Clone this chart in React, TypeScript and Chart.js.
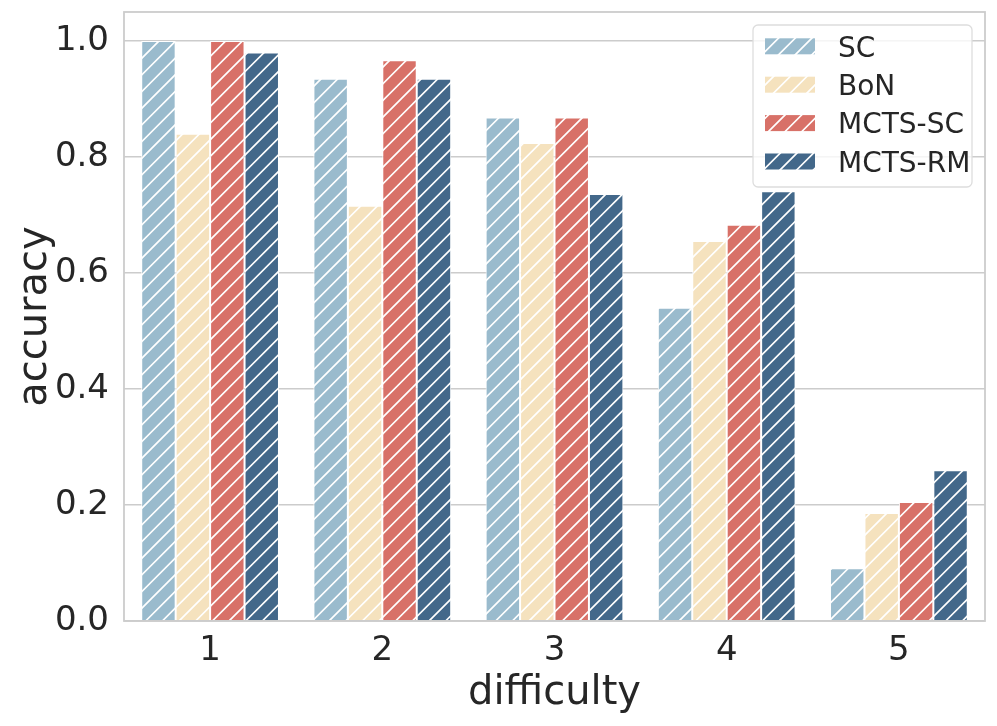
import React, { useEffect, useRef } from 'react';
import { Chart, registerables } from 'chart.js';

Chart.register(...registerables);

const categories = ['1', '2', '3', '4', '5'];
const seriesNames = ['SC', 'BoN', 'MCTS-SC', 'MCTS-RM'];
const scValues = [1.0, 0.935, 0.868, 0.54, 0.091];
const bonValues = [0.84, 0.716, 0.824, 0.655, 0.186];
const mctsScValues = [1.0, 0.967, 0.868, 0.683, 0.205];
const mctsRmValues = [0.98, 0.935, 0.736, 0.741, 0.26];
const yTicks = [0, 0.2, 0.4, 0.6, 0.8, 1.0];
const seriesColors = ['#9abbcd', '#f5e2be', '#d87168', '#43688a'];

const FONT = '"DejaVu Sans", "Liberation Sans", sans-serif';
const TEXT = '#262626';
const GRID = '#cccccc';

function makePattern(ctx: CanvasRenderingContext2D, color: string): CanvasPattern | string {
  const p = 50;
  const step = p / 3;
  const tile = document.createElement('canvas');
  tile.width = p;
  tile.height = p;
  const t = tile.getContext('2d');
  if (!t) return color;
  t.fillStyle = color;
  t.fillRect(0, 0, p, p);
  t.strokeStyle = '#ffffff';
  t.lineWidth = 1.7;
  t.beginPath();
  for (let k = 0; k <= 6; k++) {
    const c = k * step;
    t.moveTo(c + 3, -3);
    t.lineTo(c - p - 3, p + 3);
  }
  t.stroke();
  const pat = ctx.createPattern(tile, 'repeat');
  return pat || color;
}

const framePlugin = {
  id: 'frame',
  afterDatasetsDraw(chart: any) {
    const { ctx, chartArea } = chart;
    ctx.save();
    ctx.strokeStyle = GRID;
    ctx.lineWidth = 1.8;
    ctx.strokeRect(chartArea.left, chartArea.top, chartArea.right - chartArea.left, chartArea.bottom - chartArea.top);
    ctx.restore();
  },
};

const legendPlugin = {
  id: 'innerLegend',
  afterDraw(chart: any) {
    const { ctx } = chart;
    const x0 = 753;
    const y0 = 25;
    const w = 219;
    const h = 162;
    const r = 5;
    ctx.save();
    ctx.beginPath();
    ctx.moveTo(x0 + r, y0);
    ctx.lineTo(x0 + w - r, y0);
    ctx.arcTo(x0 + w, y0, x0 + w, y0 + r, r);
    ctx.lineTo(x0 + w, y0 + h - r);
    ctx.arcTo(x0 + w, y0 + h, x0 + w - r, y0 + h, r);
    ctx.lineTo(x0 + r, y0 + h);
    ctx.arcTo(x0, y0 + h, x0, y0 + h - r, r);
    ctx.lineTo(x0, y0 + r);
    ctx.arcTo(x0, y0, x0 + r, y0, r);
    ctx.closePath();
    ctx.fillStyle = 'rgba(255,255,255,0.8)';
    ctx.fill();
    ctx.strokeStyle = '#dddddd';
    ctx.lineWidth = 1.3;
    ctx.stroke();

    chart.data.datasets.forEach((ds: any, i: number) => {
      const cy = 46.3 + i * 38.4;
      ctx.fillStyle = ds.backgroundColor;
      ctx.fillRect(765, cy - 8, 50, 16);
      ctx.fillStyle = TEXT;
      ctx.font = `28px ${FONT}`;
      ctx.textAlign = 'left';
      ctx.textBaseline = 'alphabetic';
      ctx.fillText(ds.label, 838, cy + 10.2);
    });
    ctx.restore();
  },
};

export default function App() {
  const ref = useRef<HTMLCanvasElement | null>(null);

  useEffect(() => {
    document.body.style.margin = '0';
    const canvas = ref.current;
    if (!canvas) return;
    const ctx = canvas.getContext('2d');
    if (!ctx) return;
    const valueSets = [scValues, bonValues, mctsScValues, mctsRmValues];
    const datasets = seriesNames.map((name, i) => ({
      label: name,
      data: valueSets[i],
      backgroundColor: makePattern(ctx, seriesColors[i]) as any,
      borderColor: '#ffffff',
      borderWidth: 1,
      categoryPercentage: 0.8,
      barPercentage: 1.0,
    }));

    const chart = new Chart(canvas, {
      type: 'bar',
      data: { labels: categories, datasets },
      options: {
        animation: false,
        responsive: false,
        devicePixelRatio: window.devicePixelRatio || 1,
        layout: { padding: { left: 0, right: 12, top: 12, bottom: 0 } },
        plugins: {
          legend: { display: false },
          tooltip: { enabled: false },
        },
        scales: {
          x: {
            grid: { display: false, drawTicks: false },
            border: { display: false },
            ticks: {
              color: TEXT,
              font: { family: FONT, size: 34 },
              padding: 9.5,
              maxRotation: 0,
            },
            title: {
              display: true,
              text: 'difficulty',
              color: TEXT,
              font: { family: FONT, size: 40 },
              padding: { top: 0, bottom: 8 },
            },
            afterFit(scale: any) {
              scale.height = 105;
              scale.paddingLeft = 0;
              scale.paddingRight = 0;
            },
          },
          y: {
            min: 0,
            max: 1.05,
            grid: { color: GRID, lineWidth: 1.5, drawTicks: false },
            border: { display: false },
            ticks: {
              color: TEXT,
              font: { family: FONT, size: 34 },
              padding: 15,
              callback: (v: any) => Number(v).toFixed(1),
            },
            afterBuildTicks(scale: any) {
              scale.ticks = yTicks.map((v) => ({ value: v }));
            },
            title: {
              display: true,
              text: 'accuracy',
              color: TEXT,
              font: { family: FONT, size: 40 },
              padding: { top: 11.5, bottom: 0 },
            },
            afterFit(scale: any) {
              scale.width = 124;
              scale.paddingTop = 0;
              scale.paddingBottom = 0;
            },
          },
        },
      },
      plugins: [framePlugin, legendPlugin],
    });
    return () => chart.destroy();
  }, []);

  return (
    <div style={{ width: 997, height: 726 }}>
      <canvas ref={ref} width={997} height={726} style={{ display: 'block', width: 997, height: 726 }} />
    </div>
  );
}
